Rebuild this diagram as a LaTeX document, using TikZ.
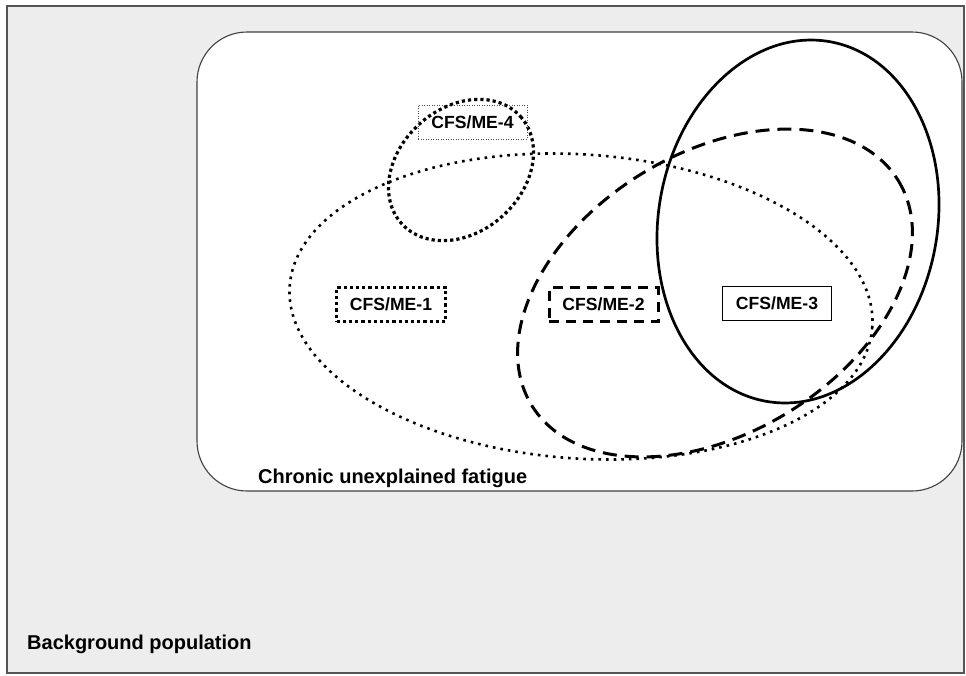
\documentclass[tikz,border=0pt]{standalone}
\usepackage{fontspec}
\setmainfont{Liberation Sans}
\definecolor{bgpop}{RGB}{237,237,237}
\definecolor{frame}{RGB}{85,85,85}
\tikzset{
  finedots/.style={line width=2.6, dash pattern=on 2.6 off 5},
  fatdots/.style={line width=3.2, dash pattern=on 3.2 off 3},
  longdash/.style={line width=3, dash pattern=on 14 off 8},
  casebox/.style={minimum width=109, minimum height=34, inner sep=0pt,
    font=\fontsize{17.6}{20}\selectfont\bfseries},
  grouplabel/.style={anchor=base west, inner sep=0pt,
    font=\fontsize{20}{24}\selectfont\bfseries}
}
\begin{document}
\begin{tikzpicture}[x=1pt,y=1pt,yscale=-1,xscale=1]
\useasboundingbox (0,0) rectangle (966,675);

%Shape: Rectangle (background population)
\draw [color=frame, fill=bgpop, line width=2]  (7,6) -- (964,6) -- (964,673) -- (7,673) -- cycle ;
%Shape: Rounded Rectangle (chronic fatigue)
\draw [color=black!75, fill=white, line width=1.1, rounded corners=50]  (197,32) rectangle (962,491) ;

%Shape: Ellipse (CFS/ME-1)
\draw [finedots, shift={(581,306.5)}, rotate=4]  (0,0) ellipse [x radius=292, y radius=152] ;
%Shape: Ellipse (CFS/ME-4)
\draw [fatdots, shift={(461,170)}, rotate=-42]  (0,0) ellipse [x radius=80, y radius=62] ;
%Shape: Ellipse (CFS/ME-2)
\draw [longdash, shift={(715,293)}, rotate=-31.5]  (0,0) ellipse [x radius=215, y radius=140] ;
%Shape: Ellipse (CFS/ME-3)
\draw [line width=2.7, shift={(798,221.5)}, rotate=10]  (0,0) ellipse [x radius=139.5, y radius=182.6] ;

% Text Node
\node [casebox, draw=black!70, line width=1, dash pattern=on 1 off 1.5] (me4) at (472.5,122) {CFS/ME-4};
% Text Node
\node [casebox, draw, fatdots] (me1) at (391,304.5) {CFS/ME-1};
% Text Node
\node [casebox, draw, line width=3, dash pattern=on 10 off 7] (me2) at (603.5,304.5) {CFS/ME-2};
% Text Node
\node [casebox, draw, line width=1.6] (me3) at (777,303.5) {CFS/ME-3};
% Text Node
\node [grouplabel] (fatigue) at (258,483) {Chronic unexplained fatigue};
% Text Node
\node [grouplabel] (population) at (27,649) {Background population};

\end{tikzpicture}
\end{document}
